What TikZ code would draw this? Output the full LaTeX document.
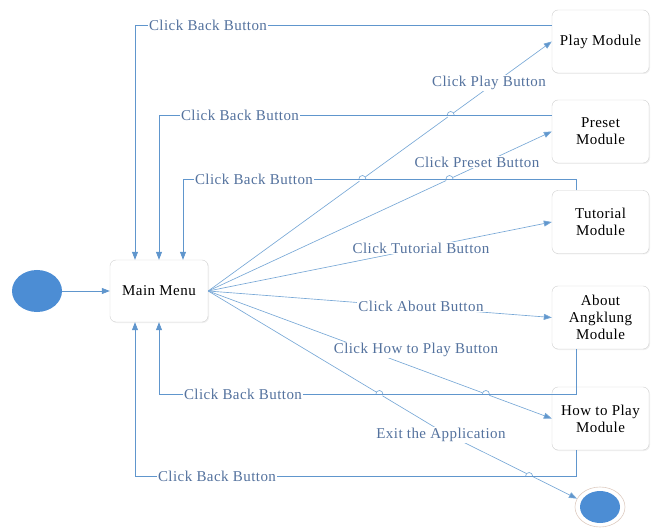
\documentclass[tikz,border=0pt]{standalone}
\usepackage{fontspec}
\setmainfont{Liberation Serif}[LetterSpace=3]
\usetikzlibrary{arrows.meta,shapes.geometric,shadows}
\definecolor{conncol}{RGB}{96,150,205}
\definecolor{fancol}{RGB}{120,168,214}
\definecolor{lblcol}{RGB}{84,114,158}
\definecolor{boxgray}{RGB}{208,208,208}
\definecolor{circblue}{RGB}{76,141,212}
\definecolor{ringcol}{RGB}{222,204,194}
\newcommand\lhop[2]{%
  \fill[white] (#1,#2) circle[radius=3.8pt];
  \draw[conn] (#1-5,#2) -- (#1+5,#2);
  \draw[fan] (#1-3.5,#2) arc[start angle=180,end angle=0,radius=3.5pt];}
\begin{document}
\begin{tikzpicture}[x=1pt,y=-1pt,
  box/.style={draw=boxgray, rounded corners=6pt, fill=white, minimum width=97pt,
    minimum height=63pt, align=center, inner sep=2pt,
    font=\fontsize{15}{17}\selectfont,
    drop shadow={opacity=0.12, shadow xshift=1pt, shadow yshift=-1pt}},
  lbl/.style={fill=white, text=lblcol, inner sep=1pt, font=\fontsize{15}{17}\selectfont},
  conn/.style={draw=conncol, line width=0.7pt},
  fan/.style={draw=fancol, line width=0.65pt},
  arr/.style={conn, -{Triangle[length=8pt,width=6pt,fill=conncol]}},
  fanarr/.style={fan, -{Triangle[length=8pt,width=6pt,fill=conncol]}},
]
\useasboundingbox (0,0) rectangle (653,529);
% nodes
\node[ellipse, fill=circblue, minimum width=50pt, minimum height=42pt, inner sep=0pt] (start) at (37,291) {};
\node[box, minimum width=98pt, minimum height=62pt] (mm) at (159,291) {Main Menu};
\node[box] (play) at (600.5,41.5) {Play Module};
\node[box] (preset) at (600.5,131.5) {Preset\\Module};
\node[box] (tut) at (600.5,222) {Tutorial\\Module};
\node[box] (about) at (600.5,317.5) {About\\Angklung\\Module};
\node[box] (howto) at (600.5,418.5) {How to Play\\Module};
\node[ellipse, draw=ringcol, line width=0.6pt, minimum width=50pt, minimum height=40pt, inner sep=0pt] (endc) at (600,507) {};
\node[ellipse, fill=circblue, minimum width=40pt, minimum height=32pt, inner sep=0pt] (endin) at (endc.center) {};
% start
\draw[arr] (start) -- (mm);
% fan connectors
\draw[fanarr] (mm.east) -- (play.west);
\draw[fanarr] (mm.east) -- (preset.west);
\draw[fanarr] (mm.east) -- (tut.west);
\draw[fanarr] (mm.east) -- (about.west);
\draw[fanarr] (mm.east) -- (howto.west);
\coordinate (xe) at (441,431);
\draw[fanarr] (mm.east) -- (xe) -- (endc.160);
% back connectors
\draw[arr] ([yshift=16.5pt]play.west) -| ([xshift=-24pt]mm.north);
\draw[arr] ([yshift=16.5pt]preset.west) -| (mm.north);
\coordinate (tb) at (576,179);
\draw[arr] ([xshift=-24.5pt]tut.north) -- (tb) -| ([xshift=24pt]mm.north);
\coordinate (ab) at (576,394);
\draw[arr] ([xshift=-24.5pt]about.south) -- (ab) -| (mm.south);
\coordinate (hb) at (576,476);
\draw[arr] ([xshift=-24.5pt]howto.south) -- (hb) -| ([xshift=-24pt]mm.south);
% line hops
\lhop{362.4}{179}
\lhop{450.7}{115}
\lhop{449.5}{179}
\lhop{485.9}{394}
\lhop{379.4}{394}
\lhop{529.1}{476}
% labels
\node[lbl] (lb1) at (208,25) {Click Back Button};
\node[lbl] (lb2) at (240,115) {Click Back Button};
\node[lbl] (lb3) at (254,179) {Click Back Button};
\node[lbl] (lb4) at (243,394) {Click Back Button};
\node[lbl] (lb5) at (217,476) {Click Back Button};
\node[lbl] (lplay) at (489,83) {Click Play Button};
\node[lbl] (lpreset) at (477,162) {Click Preset Button};
\node[lbl] (ltut) at (421,248) {Click Tutorial Button};
\node[lbl] (labout) at (421,306) {Click About Button};
\node[lbl] (lhow) at (416,350) {Click How to Play Button};
\node[lbl] (lexit) at (441,435) {Exit the Application};
\end{tikzpicture}
\end{document}
